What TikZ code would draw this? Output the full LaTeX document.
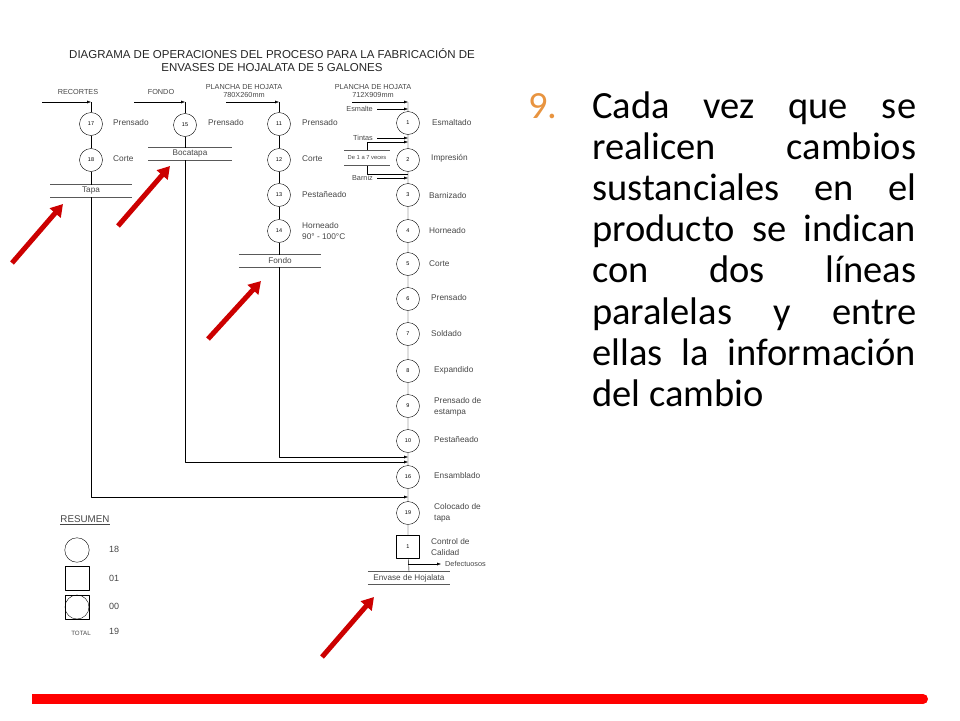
\documentclass[tikz,border=0pt]{standalone}
\usepackage{fontspec}
\setmainfont{Liberation Sans}
\newfontfamily\slidefont{Carlito}
\usetikzlibrary{arrows.meta}
\definecolor{flecha}{RGB}{204,0,0}
\definecolor{barra}{RGB}{255,0,0}
\definecolor{numero}{RGB}{232,148,64}
\definecolor{gris}{RGB}{70,70,70}
\begin{document}
\begin{tikzpicture}[x=1pt, y=-1pt, line join=round, >={Latex[length=4pt,width=3pt]},
	op/.style={circle, draw, minimum size=23pt, inner sep=0pt, font=\fontsize{5.5}{6}\selectfont},
	insp/.style={rectangle, draw, minimum size=23pt, inner sep=0pt, font=\fontsize{5.5}{6}\selectfont},
	lbl/.style={anchor=west, inner sep=0pt, text=gris, align=left, font=\fontsize{8.3}{10.5}\selectfont},
	head/.style={inner sep=0pt, text=gris, align=center, font=\fontsize{7.3}{8.5}\selectfont},
	parline/.style={draw=black!65, line width=0.9pt},
	prodbox/.style={minimum width=#1, minimum height=12pt, inner sep=0pt, text=gris, font=\fontsize{8.2}{9}\selectfont,
		append after command={(\tikzlastnode.north west) edge[parline] (\tikzlastnode.north east)
			(\tikzlastnode.south west) edge[parline] (\tikzlastnode.south east)}},
	redarrow/.style={draw=flecha, line width=5pt, -{Triangle[length=12pt,width=14pt]}}]
	\useasboundingbox (0,0) rectangle (960,720);
	%
	% titulo
	\node[text=black!85, align=center, font=\fontsize{11.5}{12.5}\selectfont] (titulo) at (272,60)
		{DIAGRAMA DE OPERACIONES DEL PROCESO PARA LA FABRICACI\'ON DE\\ENVASES DE HOJALATA DE 5 GALONES};
	%
	% recortes -> tapa
	\node[head] (recortes) at (78,92) {RECORTES};
	\coordinate (recin) at (42,102);
	\coordinate (recm) at (91,102);
	\node[op] (o17) at (91,124) {17};
	\node[op] (o18) at (91,160) {18};
	\node[lbl] (l17) at (113,123) {Prensado};
	\node[lbl] (l18) at (113,159) {Corte};
	\node[prodbox=81pt] (tapa) at (91,191) {Tapa};
	\coordinate (tapam) at (408,497);
	\draw[->] (recin) -- (recm);
	\draw (recm) -- (o17) -- (o18) -- (tapa.north);
	\draw[->] (tapa.south) |- (tapam);
	%
	% fondo -> bocatapa
	\node[head] (fondoh) at (161,92) {FONDO};
	\coordinate (fonin) at (134,102);
	\coordinate (fonm) at (185,102);
	\node[op] (o15) at (185,125) {15};
	\node[lbl] (l15) at (208,123) {Prensado};
	\node[prodbox=83pt] (boca) at (190,154) {Bocatapa};
	\coordinate (bocam) at (408,462);
	\draw[->] (fonin) -- (fonm);
	\draw (fonm) -- (o15) -- (o15 |- boca.north);
	\draw[->] (o15 |- boca.south) |- (bocam);
	%
	% plancha 780x260 -> fondo
	\node[head] (plancha1) at (244,91) {PLANCHA DE HOJATA\\780X260mm};
	\coordinate (p1in) at (226,102);
	\coordinate (p1m) at (279,102);
	\node[op] (o11) at (279,124) {11};
	\node[op] (o12) at (279,160) {12};
	\node[op] (o13) at (279,195) {13};
	\node[op] (o14) at (279,231) {14};
	\node[lbl] (l11) at (302,123) {Prensado};
	\node[lbl] (l12) at (302,159) {Corte};
	\node[lbl] (l13) at (302,195) {Pesta\~neado};
	\node[lbl] (l14) at (302,231) {Horneado\\90\textdegree{} - 100\textdegree C};
	\node[prodbox=82pt] (fondo) at (280,261) {Fondo};
	\coordinate (fondom) at (408,457);
	\draw[->] (p1in) -- (p1m);
	\draw (p1m) -- (o11) -- (o12) -- (o13) -- (o14) -- (o14 |- fondo.north);
	\draw[->] (o14 |- fondo.south) |- (fondom);
	%
	% plancha 712x909 -> envase
	\node[head] (plancha2) at (373,91) {PLANCHA DE HOJATA\\712X909mm};
	\coordinate (p2in) at (352,102);
	\coordinate (m0) at (408,102);
	\node[head, anchor=east] (esmalte) at (373,109) {Esmalte};
	\coordinate (esmm) at (408,109);
	\node[head, anchor=east] (tintas) at (373,138) {Tintas};
	\coordinate (tinm) at (408,138);
	\node[head, anchor=east] (barniz) at (373,178) {Barniz};
	\coordinate (barm) at (408,178);
	\node[prodbox=45pt, font=\fontsize{5.8}{7}\selectfont, minimum height=15pt] (veces) at (367,158) {De 1 a 7 veces};
	\coordinate (vtop) at (408,142);
	\coordinate (vbot) at (408,174);
	\foreach \n/\y in {1/123, 2/160, 3/195, 4/231, 5/264, 6/299, 7/334, 8/371, 9/406, 10/441, 16/477, 19/513}
		\node[op] (o\n) at (408,\y) {\n};
	\node[insp] (q1) at (408,547) {1};
	\node[lbl] (l1) at (432,123) {Esmaltado};
	\node[lbl] (l2) at (431,158) {Impresi\'on};
	\node[lbl] (l3) at (429,196) {Barnizado};
	\node[lbl] (l4) at (429,231) {Horneado};
	\node[lbl] (l5) at (429,264) {Corte};
	\node[lbl] (l6) at (431,298) {Prensado};
	\node[lbl] (l7) at (431,334) {Soldado};
	\node[lbl] (l8) at (434,370) {Expandido};
	\node[lbl] (l9) at (434,407) {Prensado de\\estampa};
	\node[lbl] (l10) at (434,440) {Pesta\~neado};
	\node[lbl] (l16) at (434,476) {Ensamblado};
	\node[lbl] (l19) at (434,513) {Colocado de\\tapa};
	\node[lbl] (lq1) at (431,547) {Control de\\Calidad};
	\node[head, anchor=west] (defect) at (445,564) {Defectuosos};
	\coordinate (qout) at (408,564);
	\node[prodbox=82pt] (envase) at (409,578) {Envase de Hojalata};
	\draw[->] (p2in) -- (m0);
	\draw[->] ([xshift=4pt]esmalte.east) -- (esmm);
	\draw[->] ([xshift=4pt]tintas.east) -- (tinm);
	\draw[->] ([xshift=4pt]barniz.east) -- (barm);
	\draw[->] (veces.north) |- (vtop);
	\draw (veces.south) |- (vbot);
	\draw (m0) -- (o1) -- (o2) -- (o3) -- (o4) -- (o5) -- (o6) -- (o7) -- (o8) -- (o9) -- (o10) -- (o16) -- (o19) -- (q1) -- (envase.north);
	\draw[->, shorten >=4pt] (qout) -- (defect.west);
	%
	% resumen
	\node[text=gris, font=\fontsize{9.8}{11}\selectfont] (resumen) at (85,520) {\underline{RESUMEN}};
	\node[circle, draw, minimum size=24.5pt, inner sep=0pt] (sop) at (77,550) {};
	\node[rectangle, draw, minimum size=24pt, inner sep=0pt] (sinsp) at (77,578) {};
	\node[rectangle, draw, minimum size=24pt, inner sep=0pt] (scomb) at (77,607) {};
	\node[circle, draw, minimum size=24pt, inner sep=0pt] (scombc) at (scomb) {};
	\node[text=gris, font=\fontsize{6.2}{7}\selectfont] (total) at (81,633) {TOTAL};
	\foreach \nom/\y/\v in {nop/549/18, ninsp/578/01, ncomb/606/00, ntotal/631/19}
		\node[anchor=west, inner sep=0pt, text=gris, font=\fontsize{9}{10}\selectfont] (\nom) at (109,\y) {\v};
	%
	% flechas rojas
	\coordinate (r1a) at (12,263); \coordinate (r1b) at (63,204);
	\coordinate (r2a) at (118,226); \coordinate (r2b) at (170,166);
	\coordinate (r3a) at (208,339); \coordinate (r3b) at (261,281);
	\coordinate (r4a) at (322,657); \coordinate (r4b) at (374,597);
	\foreach \r in {1,...,4}
		\draw[redarrow] (r\r a) -- (r\r b);
	%
	% texto
	\node[anchor=base west, inner sep=0pt, text=numero, font=\slidefont\fontsize{38.5}{41.2}\selectfont] (nueve) at (528,118) {9.};
	\node[anchor=base west, inner sep=0pt, font=\slidefont\fontsize{38.5}{41.2}\selectfont] (parrafo) at (592,118)
		{\parbox[t]{324pt}{\hyphenpenalty=10000\tolerance=9999 Cada vez que se\linebreak realicen cambios\linebreak sustanciales en el\linebreak producto se indican\linebreak con dos l\'ineas\linebreak paralelas y entre\linebreak ellas la informaci\'on\linebreak del cambio}};
	%
	% barra
	\fill[barra] (32,694) rectangle (923,704);
	\fill[barra] (923,699) circle (5);
\end{tikzpicture}
\end{document}
